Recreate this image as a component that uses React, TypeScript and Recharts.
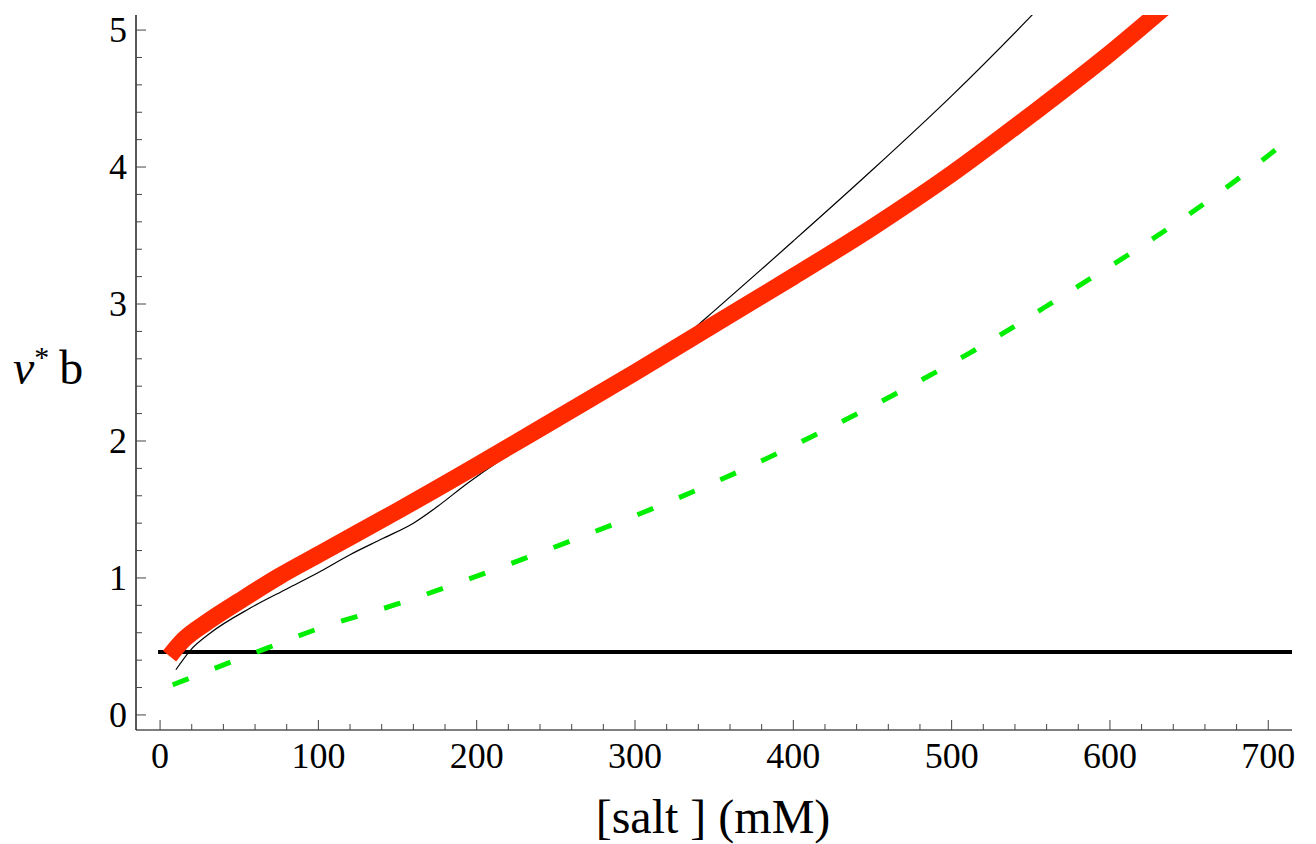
import React from "react";
import { LineChart, Line, XAxis, YAxis, Label } from "recharts";

// salt concentration (mM) vs nu* b
const redCurve = [
  { x: 6, y: 0.43 },
  { x: 15, y: 0.55 },
  { x: 30, y: 0.68 },
  { x: 50, y: 0.83 },
  { x: 75, y: 1.01 },
  { x: 100, y: 1.17 },
  { x: 125, y: 1.33 },
  { x: 150, y: 1.49 },
  { x: 200, y: 1.82 },
  { x: 250, y: 2.16 },
  { x: 300, y: 2.5 },
  { x: 350, y: 2.85 },
  { x: 400, y: 3.2 },
  { x: 450, y: 3.56 },
  { x: 500, y: 3.95 },
  { x: 550, y: 4.38 },
  { x: 600, y: 4.83 },
  { x: 640, y: 5.22 },
];

const thinBlackCurve = [
  { x: 10, y: 0.33 },
  { x: 19, y: 0.47 },
  { x: 32, y: 0.6 },
  { x: 57, y: 0.78 },
  { x: 80, y: 0.92 },
  { x: 100, y: 1.04 },
  { x: 120, y: 1.17 },
  { x: 141, y: 1.29 },
  { x: 160, y: 1.4 },
  { x: 175, y: 1.52 },
  { x: 194, y: 1.69 },
  { x: 215, y: 1.86 },
  { x: 230, y: 1.97 },
  { x: 260, y: 2.2 },
  { x: 300, y: 2.49 },
  { x: 335, y: 2.8 },
  { x: 350, y: 2.95 },
  { x: 400, y: 3.46 },
  { x: 450, y: 3.98 },
  { x: 500, y: 4.52 },
  { x: 550, y: 5.1 },
  { x: 560, y: 5.22 },
];

const greenCurve = [
  { x: 8, y: 0.22 },
  { x: 68, y: 0.49 },
  { x: 100, y: 0.63 },
  { x: 150, y: 0.81 },
  { x: 204, y: 1.03 },
  { x: 257, y: 1.26 },
  { x: 314, y: 1.52 },
  { x: 368, y: 1.79 },
  { x: 420, y: 2.08 },
  { x: 472, y: 2.39 },
  { x: 523, y: 2.72 },
  { x: 573, y: 3.08 },
  { x: 621, y: 3.43 },
  { x: 670, y: 3.82 },
  { x: 715, y: 4.22 },
];

const flatLine = [
  { x: 0, y: 0.46 },
  { x: 715, y: 0.46 },
];

const xTicks = [
  0, 20, 40, 60, 80, 100, 120, 140, 160, 180, 200, 220, 240, 260, 280, 300,
  320, 340, 360, 380, 400, 420, 440, 460, 480, 500, 520, 540, 560, 580, 600,
  620, 640, 660, 680, 700,
];
const yTicks = [
  0, 0.2, 0.4, 0.6, 0.8, 1, 1.2, 1.4, 1.6, 1.8, 2, 2.2, 2.4, 2.6, 2.8, 3,
  3.2, 3.4, 3.6, 3.8, 4, 4.2, 4.4, 4.6, 4.8, 5,
];

const FONT = "'Liberation Serif', 'Times New Roman', serif";

const XTick = (props: any) => {
  const { x, y, payload } = props;
  const v = payload.value;
  const major = Math.abs(v % 100) < 1e-6;
  return (
    <g>
      <line x1={x} y1={y} x2={x} y2={y - (major ? 10 : 6)} stroke="#444" strokeWidth={1} />
      {major && (
        <text x={x} y={y + 38} textAnchor="middle" fontFamily={FONT} fontSize={36} fill="#000">
          {v}
        </text>
      )}
    </g>
  );
};

const YTick = (props: any) => {
  const { x, y, payload } = props;
  const v = payload.value;
  const major = Math.abs(v - Math.round(v)) < 1e-6;
  return (
    <g>
      <line x1={x} y1={y} x2={x + (major ? 10 : 6)} y2={y} stroke="#444" strokeWidth={1} />
      {major && (
        <text x={x - 9} y={y + 12} textAnchor="end" fontFamily={FONT} fontSize={36} fill="#000">
          {Math.round(v)}
        </text>
      )}
    </g>
  );
};

export default function App() {
  return (
    <div style={{ position: "absolute", left: 0, top: 0, width: 1316, height: 844, background: "#fff" }}>
      <LineChart width={1316} height={844} margin={{ top: 15, right: 24, left: 0, bottom: 0 }}>
        <XAxis
          dataKey="x"
          type="number"
          domain={[-15.2, 715]}
          allowDataOverflow
          ticks={xTicks}
          interval={0}
          tick={<XTick />}
          tickLine={false}
          tickSize={0}
          tickMargin={0}
          height={114}
          axisLine={{ stroke: "#555", strokeWidth: 1.5 }}
        >
          <Label
            content={() => (
              <text x={713} y={833} textAnchor="middle" fontFamily={FONT} fontSize={48} fill="#000">
                [salt ] (mM)
              </text>
            )}
          />
        </XAxis>
        <YAxis
          type="number"
          domain={[-0.11, 5.11]}
          allowDataOverflow
          ticks={yTicks}
          interval={0}
          tick={<YTick />}
          tickLine={false}
          tickSize={0}
          tickMargin={0}
          width={136}
          axisLine={{ stroke: "#222", strokeWidth: 1.5 }}
        >
          <Label
            content={() => (
              <text x={13} y={384} fontFamily={FONT} fontSize={48} fill="#000">
                <tspan fontStyle="italic">ν</tspan>
                <tspan dy={-17} fontSize={30}>*</tspan>
                <tspan dy={17} dx={10}>b</tspan>
              </text>
            )}
          />
        </YAxis>
        <Line
          data={flatLine}
          dataKey="y"
          type="linear"
          stroke="#000"
          strokeWidth={4}
          strokeLinecap="square"
          dot={false}
          activeDot={false}
          isAnimationActive={false}
        />
        <Line
          data={greenCurve}
          dataKey="y"
          type="monotone"
          stroke="#00ee00"
          strokeWidth={5}
          strokeDasharray="17 28"
          dot={false}
          activeDot={false}
          isAnimationActive={false}
        />
        <Line
          data={thinBlackCurve}
          dataKey="y"
          type="monotone"
          stroke="#000"
          strokeWidth={1.2}
          dot={false}
          activeDot={false}
          isAnimationActive={false}
        />
        <Line
          data={redCurve}
          dataKey="y"
          type="monotone"
          stroke="#ff2a00"
          strokeWidth={17}
          dot={false}
          activeDot={false}
          isAnimationActive={false}
        />
      </LineChart>
    </div>
  );
}
